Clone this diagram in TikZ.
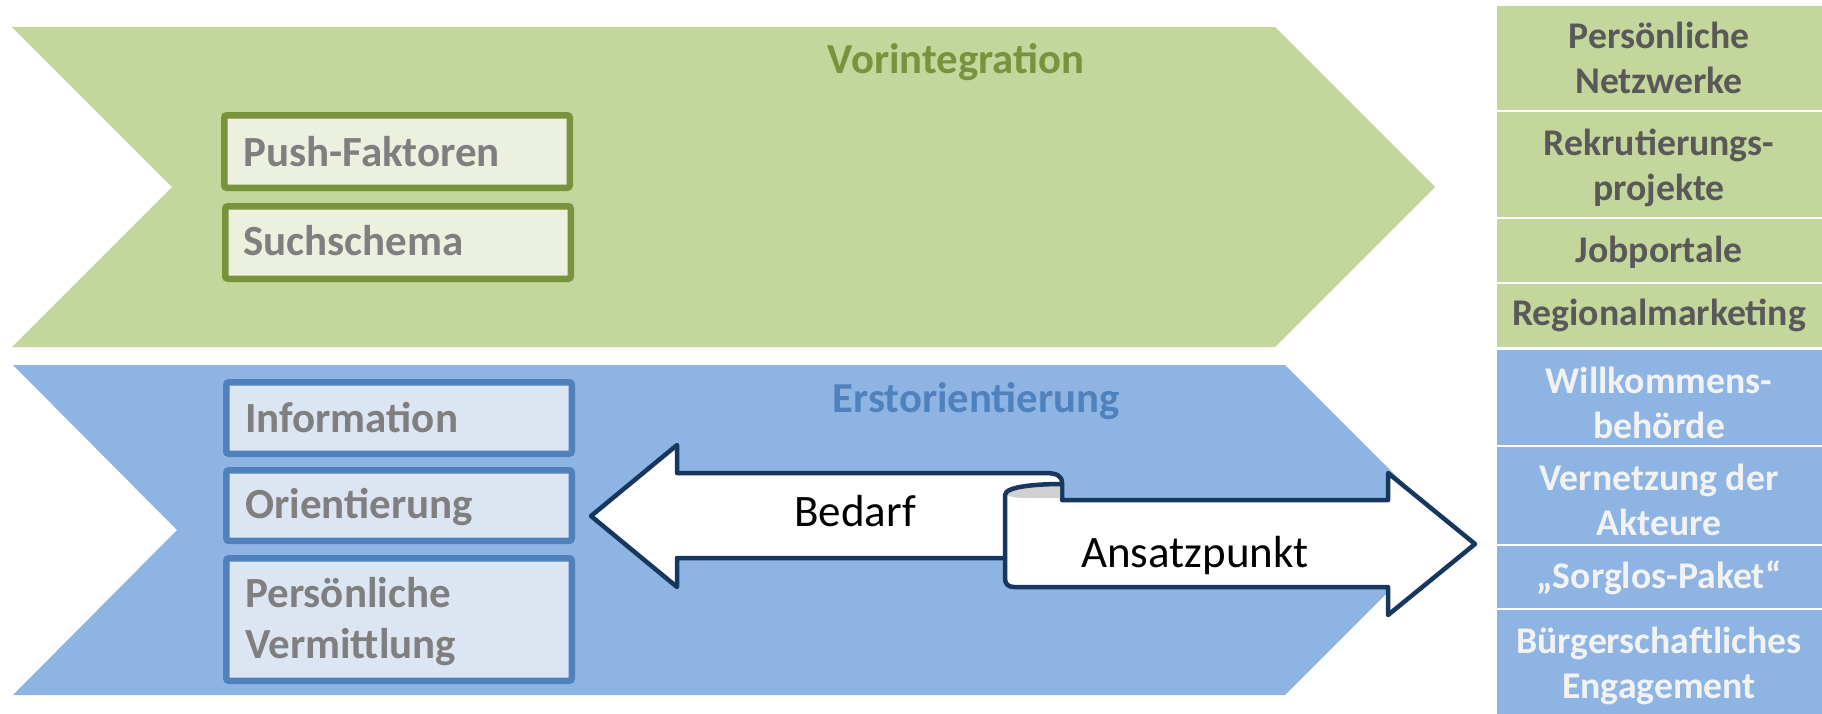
\documentclass[tikz,border=0pt]{standalone}
\usepackage{fontspec}
\setmainfont{Carlito}
\definecolor{chevG}{HTML}{C3D69B}
\definecolor{boxGfill}{HTML}{EBF1DE}
\definecolor{boxGdraw}{HTML}{77933C}
\definecolor{chevB}{HTML}{8EB4E3}
\definecolor{boxBfill}{HTML}{DCE6F2}
\definecolor{boxBdraw}{HTML}{4F81BD}
\definecolor{txtgrey}{HTML}{7F7F7F}
\definecolor{cellGtxt}{HTML}{595959}
\definecolor{cellBtxt}{HTML}{F2F2F2}
\definecolor{navy}{HTML}{17375E}
\definecolor{rollgrey}{HTML}{D0D0D0}
\begin{document}
\begin{tikzpicture}[x=1pt,y=-1pt,
  every node/.style={inner sep=0pt},
  inbox/.style={rectangle, line width=6.5pt, rounded corners=2.5pt, minimum width=345.5pt},
  gbox/.style={inbox, draw=boxGdraw, fill=boxGfill},
  bbox/.style={inbox, draw=boxBdraw, fill=boxBfill},
  boxtxt/.style={anchor=base west, text=txtgrey, font=\fontsize{43}{51}\selectfont\bfseries},
  phase/.style={anchor=base, font=\fontsize{42.7}{51}\selectfont\bfseries},
  ribbontxt/.style={anchor=base, text=black, font=\fontsize{45}{54}\selectfont},
  ribbon/.style={draw=navy, line width=4.5pt, line join=round},
  cell/.style={rectangle, draw=white, line width=2.5pt, minimum width=334pt},
  gcell/.style={cell, fill=chevG},
  bcell/.style={cell, fill=chevB},
  gtxt/.style={anchor=base, text=cellGtxt, font=\fontsize{37.7}{45}\selectfont\bfseries},
  btxt/.style={anchor=base, text=cellBtxt, font=\fontsize{37.7}{45}\selectfont\bfseries},
]
\useasboundingbox[fill=white] (0,0) rectangle (1822,713);

% phase chevrons
\fill[chevG] (12,27) -- (1275,27) -- (1435,187) -- (1275,347) -- (12,347) -- (172,187) -- cycle;
\fill[chevB] (13,365) -- (1285,365) -- (1450,530) -- (1285,695) -- (13,695) -- (177,530) -- cycle;

% phase titles
\node[phase, text=boxGdraw] (vor) at (956,73) {Vorintegration};
\node[phase, text=boxBdraw] (erst) at (976,412) {Erstorientierung};

% boxes inside the chevrons
\node[gbox, minimum height=72.5pt] (push) at (397,151.5) {};
\node[gbox, minimum height=72.5pt] (such) at (398,242.5) {};
\node[bbox, minimum height=71.5pt] (info) at (399,418) {};
\node[bbox, minimum height=70.5pt] (orient) at (399,505.5) {};
\node[bbox, minimum height=122.5pt] (verm) at (399,619.5) {};

\node[boxtxt] (push-t) at (243,166) {Push-Faktoren};
\node[boxtxt] (such-t) at (243,255) {Suchschema};
\node[boxtxt] (info-t) at (245,432) {Information};
\node[boxtxt] (orient-t) at (245,518) {Orientierung};
\node[boxtxt] (verm-t1) at (245,607) {Persönliche};
\node[boxtxt] (verm-t2) at (245,658) {Vermittlung};

% left-right ribbon arrow
\path[ribbon, fill=white]
  (1005,558) -- (677,558) -- (677,587) -- (591,516) -- (677,445) -- (677,473)
  -- (1045,473) .. controls (1057,473) and (1062,476) .. (1062,483)
  -- (1062,500) -- (1388,500) -- (1388,473) -- (1475,544) -- (1388,615)
  -- (1388,587) -- (1014,587) .. controls (1008,587) and (1005,584) .. (1005,578)
  -- cycle;
\fill[rollgrey] (1005,495) .. controls (1005,486) and (1040,484) .. (1060,484)
  -- (1060,498) .. controls (1035,498) and (1012,499) .. (1007,495) -- cycle;
\draw[ribbon] (1005,558) -- (1005,495) .. controls (1005,486) and (1040,484) .. (1062,484);

\node[ribbontxt] (bedarf) at (855,526) {Bedarf};
\node[ribbontxt] (ansatz) at (1195,567) {Ansatzpunkt};

% measure column
\node[gcell, minimum height=106pt] (c1) at (1663,58) {};
\node[gcell, minimum height=107pt] (c2) at (1663,164.5) {};
\node[gcell, minimum height=65pt] (c3) at (1663,250.5) {};
\node[gcell, minimum height=65.5pt] (c4) at (1663,315.75) {};
\node[bcell, minimum height=97.5pt] (c5) at (1663,397.25) {};
\node[bcell, minimum height=99pt] (c6) at (1663,495.5) {};
\node[bcell, minimum height=64pt] (c7) at (1663,577) {};
\node[bcell, minimum height=107pt] (c8) at (1663,662.5) {};

\node[gtxt] (c1-a) at (1659,48) {Persönliche};
\node[gtxt] (c1-b) at (1659,93) {Netzwerke};
\node[gtxt] (c2-a) at (1659,155) {Rekrutierungs-};
\node[gtxt] (c2-b) at (1659,200) {projekte};
\node[gtxt] (c3-a) at (1659,262) {Jobportale};
\node[gtxt] (c4-a) at (1659,325) {Regionalmarketing};
\node[btxt] (c5-a) at (1659,393) {Willkommens-};
\node[btxt] (c5-b) at (1659,438) {behörde};
\node[btxt] (c6-a) at (1659,490) {Vernetzung der};
\node[btxt] (c6-b) at (1659,535) {Akteure};
\node[btxt] (c7-a) at (1659,588) {„Sorglos-Paket“};
\node[btxt] (c8-a) at (1659,653) {Bürgerschaftliches};
\node[btxt] (c8-b) at (1659,698) {Engagement};
\end{tikzpicture}
\end{document}
